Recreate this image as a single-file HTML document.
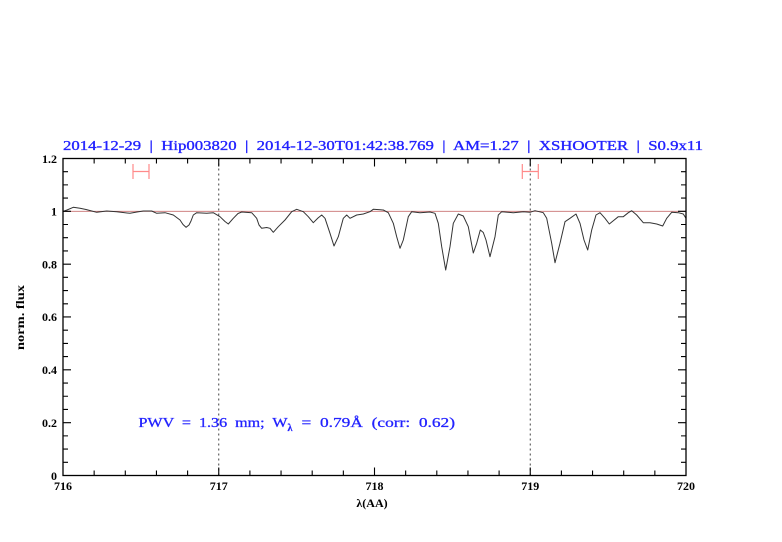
<!DOCTYPE html>
<html><head><meta charset="utf-8"><style>
html,body{margin:0;padding:0;background:#fff;}
svg{display:block;}
</style></head><body>
<svg width="782" height="542" viewBox="0 0 782 542" xmlns="http://www.w3.org/2000/svg">
<rect width="782" height="542" fill="#fff"/>
<!-- title -->
<text x="63" y="150" font-family="Liberation Serif, serif" font-size="14" fill="#2323ff" stroke="#2323ff" stroke-width="0.35" textLength="640" lengthAdjust="spacingAndGlyphs" xml:space="preserve">2014-12-29  |  Hip003820  |  2014-12-30T01:42:38.769  |  AM=1.27  |  XSHOOTER  |  S0.9x11</text>
<!-- reference line -->
<line x1="63" y1="211.3" x2="686" y2="211.3" stroke="#c87070" stroke-width="0.9"/>
<!-- dotted verticals -->
<line x1="218.75" y1="158.5" x2="218.75" y2="475.5" stroke="#444" stroke-width="1" stroke-dasharray="2,3"/>
<line x1="530.25" y1="158.5" x2="530.25" y2="475.5" stroke="#444" stroke-width="1" stroke-dasharray="2,3"/>
<!-- error bars -->
<g stroke="#ff8a8a" stroke-width="1.2" fill="none">
<path d="M133,171.5 H149 M133,164 V179 M149,164 V179"/>
<path d="M522.3,171.5 H538.3 M522.3,164 V179 M538.3,164 V179"/>
</g>
<!-- spectrum -->
<polyline fill="none" stroke="#333" stroke-width="1" stroke-linejoin="round" points="63,211.5 67,210 73.3,207.3 80,208.3 86,209.5 91.7,211 96.7,212.3 106.7,211 116.7,211.7 123,212.5 130,213.3 137,212 143.3,211 151.7,211 156.7,213.3 165,212.7 173.3,215 180,220 183,224.5 186,227.3 189,225 191,221 193.3,215 196.7,212.7 206.7,213.3 213.3,212.7 220,216.7 225,221.5 228.3,224 233.3,218.3 238,213.5 241.7,212 251.7,212.7 256.7,218.3 259,225 261.7,228.3 266.7,227.5 270,228.3 273.3,232.3 278.3,226.7 285,220 291.7,211.7 296.7,209.3 303.3,211.7 308.3,216.7 313.3,222.7 318,218 321.7,215 325,218.3 330,233.3 334,246 338.3,236.7 343.3,218.3 346.7,215 350,218.3 356.7,215 363.3,214 370,211.7 373.3,209.3 383.3,210 388.3,212.7 393.3,223.3 396.7,236.7 400,248.3 403.3,240 408.3,216.7 411.7,211.7 420,212.7 430,212 435,213.3 438.3,223.3 441.7,246.7 445.7,270 450,246.7 453.3,223.3 458.3,214 463.3,216 468.3,226.7 473.3,253 476.7,243.3 480.3,230 483.3,232.5 486,240 490,256.7 495,236.7 498.3,215 501.7,211.7 513.3,212.7 523.3,211.7 530,212.3 535,210.7 543.3,212.7 546.7,218.3 551.7,243.3 555,262.7 560,243.3 565,221.7 570,218.3 576,214 580,223.3 584,240 587.7,250 591.7,230 596,215 600,212.7 605,218.3 609.3,224 613.3,220.7 618.3,216.7 623.3,216.7 628.3,212.7 631.7,210.7 636.7,215 643.3,222.7 650,222.7 656.7,224 662.7,226 666.7,218.3 671.7,212.3 678.3,212.7 683.3,214 686,218.3"/>
<!-- frame -->
<rect x="63" y="158.5" width="623" height="317" fill="none" stroke="#000" stroke-width="1.3"/>
<!-- ticks -->
<g stroke="#000" stroke-width="1.1" fill="none">
<path d="M218.75,475.5 v-8 M374.5,475.5 v-8 M530.25,475.5 v-8 M218.75,158.5 v8 M374.5,158.5 v8 M530.25,158.5 v8"/>
<path d="M94.15,475.5v-5 M125.3,475.5v-5 M156.45,475.5v-5 M187.6,475.5v-5 M249.9,475.5v-5 M281.05,475.5v-5 M312.2,475.5v-5 M343.35,475.5v-5 M405.65,475.5v-5 M436.8,475.5v-5 M467.95,475.5v-5 M499.1,475.5v-5 M561.4,475.5v-5 M592.55,475.5v-5 M623.7,475.5v-5 M654.85,475.5v-5"/>
<path d="M94.15,158.5v5 M125.3,158.5v5 M156.45,158.5v5 M187.6,158.5v5 M249.9,158.5v5 M281.05,158.5v5 M312.2,158.5v5 M343.35,158.5v5 M405.65,158.5v5 M436.8,158.5v5 M467.95,158.5v5 M499.1,158.5v5 M561.4,158.5v5 M592.55,158.5v5 M623.7,158.5v5 M654.85,158.5v5"/>
<path d="M63,422.66h8 M63,369.82h8 M63,316.98h8 M63,264.14h8 M63,211.3h8 M686,422.66h-8 M686,369.82h-8 M686,316.98h-8 M686,264.14h-8 M686,211.3h-8"/>
<path d="M63,462.29h5 M63,449.08h5 M63,435.87h5 M63,409.45h5 M63,396.24h5 M63,383.03h5 M63,356.61h5 M63,343.4h5 M63,330.19h5 M63,303.77h5 M63,290.56h5 M63,277.35h5 M63,250.93h5 M63,237.72h5 M63,224.51h5 M63,198.09h5 M63,184.88h5 M63,171.67h5"/>
<path d="M686,462.29h-5 M686,449.08h-5 M686,435.87h-5 M686,409.45h-5 M686,396.24h-5 M686,383.03h-5 M686,356.61h-5 M686,343.4h-5 M686,330.19h-5 M686,303.77h-5 M686,290.56h-5 M686,277.35h-5 M686,250.93h-5 M686,237.72h-5 M686,224.51h-5 M686,198.09h-5 M686,184.88h-5 M686,171.67h-5"/>
</g>
<!-- y tick labels -->
<g font-family="Liberation Serif, serif" font-size="12" font-weight="bold" fill="#000" text-anchor="end">
<text x="57" y="480">0</text>
<text x="57" y="427">0.2</text>
<text x="57" y="374">0.4</text>
<text x="57" y="321">0.6</text>
<text x="57" y="268.5">0.8</text>
<text x="57" y="215.5">1</text>
<text x="57" y="163">1.2</text>
</g>
<!-- x tick labels -->
<g font-family="Liberation Serif, serif" font-size="12" font-weight="bold" fill="#000" text-anchor="middle">
<text x="63" y="490">716</text>
<text x="218.75" y="490">717</text>
<text x="374.5" y="490">718</text>
<text x="530.25" y="490">719</text>
<text x="686" y="490">720</text>
</g>
<!-- axis labels -->
<text x="372" y="507" font-family="Liberation Serif, serif" font-size="12" font-weight="bold" text-anchor="middle">λ(AA)</text>
<text transform="translate(24,317.5) rotate(-90)" font-family="Liberation Serif, serif" font-size="12" font-weight="bold" text-anchor="middle" textLength="65" lengthAdjust="spacingAndGlyphs">norm. flux</text>
<!-- annotation -->
<g font-family="Liberation Serif, serif" fill="#2323ff" stroke="#2323ff" stroke-width="0.3">
<text x="138.5" y="427" font-size="14" textLength="149" lengthAdjust="spacingAndGlyphs" xml:space="preserve">PWV  =  1.36  mm;  W</text>
<text x="287.5" y="431" font-size="10" font-weight="bold">λ</text>
<text x="301.5" y="427" font-size="14" textLength="153.5" lengthAdjust="spacingAndGlyphs" xml:space="preserve">=  0.79Å  (corr:  0.62)</text>
</g>
</svg>
</body></html>
